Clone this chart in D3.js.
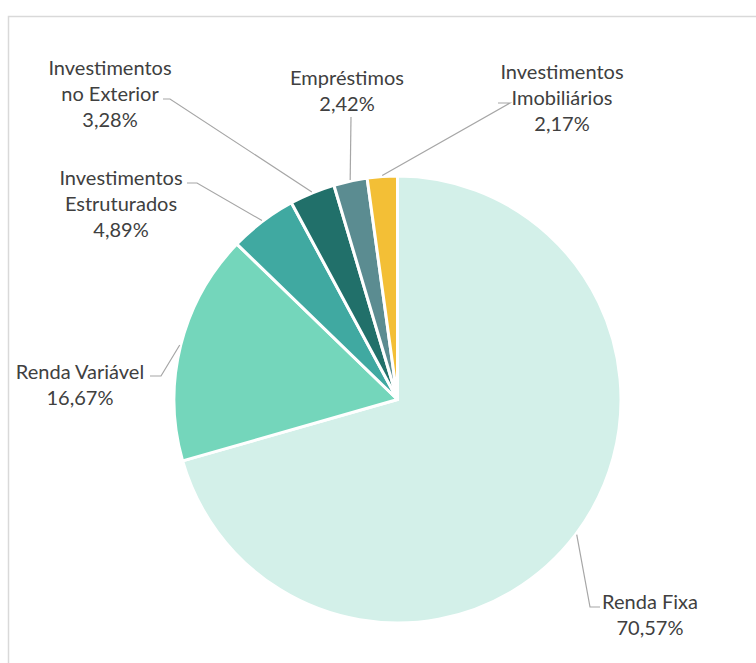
<!DOCTYPE html>
<html>
<head>
<meta charset="utf-8">
<script src="https://cdn.jsdelivr.net/npm/d3@7"></script>
<style>
  html, body { margin: 0; padding: 0; background: #fff; }
  svg { display: block; }
  .label { font-family: "Lato", "Open Sans", sans-serif; font-size: 20px; fill: #404040; }
  .leader { fill: none; stroke: #a6a6a6; stroke-width: 1.2; }
</style>
</head>
<body>
<svg id="chart" width="756" height="663"></svg>
<script>
// data
const categories = [
  "Renda Fixa",
  "Renda Variável",
  "Investimentos Estruturados",
  "Investimentos no Exterior",
  "Empréstimos",
  "Investimentos Imobiliários",
];
const values = [70.57, 16.67, 4.89, 3.28, 2.42, 2.17];
const labelLines = [
  ["Renda Fixa"],
  ["Renda Variável"],
  ["Investimentos", "Estruturados"],
  ["Investimentos", "no Exterior"],
  ["Empréstimos"],
  ["Investimentos", "Imobiliários"],
];
const colors = ["#d3f0e9", "#74d6bb", "#40a9a1", "#21706a", "#5b8c91", "#f3bf36"];

// label layout: text centre x, first line centre y, elbow point, end of horizontal tick
const labelLayout = [
  { x: 650, y: 602, elbow: [590, 607], tick: 600 },
  { x: 80, y: 372, elbow: [161, 376], tick: 150 },
  { x: 121, y: 178, elbow: [197, 183], tick: 187 },
  { x: 110, y: 68, elbow: [170, 99], tick: 163 },
  { x: 347, y: 78, elbow: [351, 117], tick: null },
  { x: 562, y: 72, elbow: [510, 103], tick: 498 },
];

const cx = 397.5, cy = 399.5, radius = 223.5;
const lineHeight = 26;

const svg = d3.select("#chart");

// chart frame
svg.append("rect")
  .attr("x", 8.5).attr("y", 16.5)
  .attr("width", 760).attr("height", 700)
  .attr("fill", "none")
  .attr("stroke", "#d9d9d9")
  .attr("stroke-width", 1.5);

const pie = d3.pie().sort(null).value((d) => d);
const arcs = pie(values);
const arc = d3.arc().innerRadius(0).outerRadius(radius);

const g = svg.append("g").attr("transform", `translate(${cx},${cy})`);

g.selectAll(".slice")
  .data(arcs)
  .enter()
  .append("path")
  .attr("class", "slice")
  .attr("d", arc)
  .attr("fill", (d, i) => colors[i])
  .attr("stroke", "#fff")
  .attr("stroke-width", 3)
  .attr("stroke-linejoin", "round");

// leader lines
const edgePoint = (d) => {
  const a = (d.startAngle + d.endAngle) / 2;
  return [cx + Math.sin(a) * (radius + 1), cy - Math.cos(a) * (radius + 1)];
};

svg.selectAll(".leader")
  .data(arcs)
  .enter()
  .append("path")
  .attr("class", "leader")
  .attr("d", (d, i) => {
    const p = edgePoint(d);
    const l = labelLayout[i];
    const pts = [p, l.elbow];
    if (l.tick !== null) pts.push([l.tick, l.elbow[1]]);
    return d3.line()(pts);
  });

// labels
const fmt = (v) => d3.format(".2f")(v).replace(".", ",") + "%";

const labels = svg.selectAll(".label")
  .data(arcs)
  .enter()
  .append("text")
  .attr("class", "label")
  .attr("text-anchor", "middle");

labels.each(function (d, i) {
  const t = d3.select(this);
  const l = labelLayout[i];
  const lines = labelLines[i].concat([fmt(values[i])]);
  lines.forEach((s, k) => {
    t.append("tspan")
      .attr("x", l.x)
      .attr("y", l.y + k * lineHeight)
      .attr("dy", "0.35em")
      .text(s);
  });
});
</script>
</body>
</html>
